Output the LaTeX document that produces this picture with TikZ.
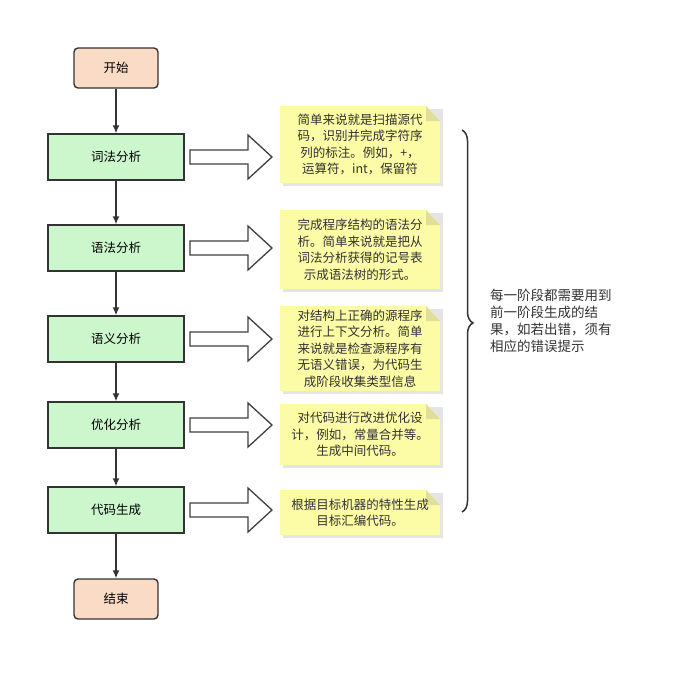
\documentclass[tikz,border=0pt]{standalone}
\usepackage{fontspec}
\setmainfont{Noto Sans CJK SC}
\usetikzlibrary{decorations.pathreplacing,arrows.meta}
\definecolor{boxg}{HTML}{CCF7CC}
\definecolor{boxo}{HTML}{FADCC6}
\definecolor{notey}{HTML}{FCFBA6}
\definecolor{noted}{HTML}{E0DE9A}
\tikzset{
 x=1pt,y=-1pt,
 stage/.style={draw=black!80,line width=1.4pt,fill=boxg,minimum width=136pt,minimum height=46pt,font=\fontsize{12.5}{14}\selectfont},
 term/.style={draw=black!80,line width=1.4pt,fill=boxo,rounded corners=4pt,minimum width=84pt,minimum height=40pt,font=\fontsize{12.5}{14}\selectfont},
 flow/.style={-{Latex[length=8pt,width=7pt]},line width=1.4pt,black!80},
 note/.style={align=center,font=\fontsize{12.5}{16.5}\selectfont,text=black!80,inner sep=0pt},
 hollow/.style={draw=black!75,line width=1.3pt,fill=white},
}
\begin{document}
\begin{tikzpicture}
\useasboundingbox (0,0) rectangle (674,681);
\fill[white] (0,0) rectangle (674,681);
\node[term] (s) at (116,68) {开始};
\node[stage] (b1) at (116,157) {词法分析};
\node[stage] (b2) at (116,248) {语法分析};
\node[stage] (b3) at (116,339) {语义分析};
\node[stage] (b4) at (116,425) {优化分析};
\node[stage] (b5) at (116,510) {代码生成};
\node[term] (e) at (116,599) {结束};
\draw[flow] (s) -- (b1);
\draw[flow] (b1) -- (b2);
\draw[flow] (b2) -- (b3);
\draw[flow] (b3) -- (b4);
\draw[flow] (b4) -- (b5);
\draw[flow] (b5) -- (e);
\foreach \y in {157,248,339,425,510}{
 \draw[hollow] (190,\y-7) -- (248,\y-7) -- (248,\y-22) -- (272,\y) -- (248,\y+22) -- (248,\y+7) -- (190,\y+7) -- cycle;
}
\foreach \n/\t/\b in {n1/106/183,n2/210/289,n3/306/391,n4/404/465,n5/490/535}{
 \fill[black!10] (283,\t+3) rectangle (443,\b+3);
 \fill[notey] (280,\t) -- (426,\t) -- (440,\t+15) -- (440,\b) -- (280,\b) -- cycle;
 \fill[noted] (426,\t) -- (440,\t+15) -- (426,\t+15) -- cycle;
 \coordinate (\n) at (360,{(\t+\b)/2});
}
\node[note] at (n1) {简单来说就是扫描源代\\码，识别并完成字符序\\列的标注。例如，+，\\运算符，int，保留符};
\node[note] at (n2) {完成程序结构的语法分\\析。简单来说就是把从\\词法分析获得的记号表\\示成语法树的形式。};
\node[note] at (n3) {对结构上正确的源程序\\进行上下文分析。简单\\来说就是检查源程序有\\无语义错误，为代码生\\成阶段收集类型信息};
\node[note] at (n4) {对代码进行改进优化设\\计，例如，常量合并等。\\生成中间代码。};
\node[note] at (n5) {根据目标机器的特性生成\\目标汇编代码。};
\coordinate (bt) at (462,130);
\coordinate (bb) at (462,512);
\draw[black!80,line width=1.5pt,decorate,decoration={brace,amplitude=11pt,aspect=0.505}] (bt) -- (bb);
\node[note,align=left,anchor=north west,font=\fontsize{13.5}{17}\selectfont] (bn) at (490,289) {每一阶段都需要用到\\前一阶段生成的结\\果，如若出错，须有\\相应的错误提示};
\end{tikzpicture}
\end{document}
